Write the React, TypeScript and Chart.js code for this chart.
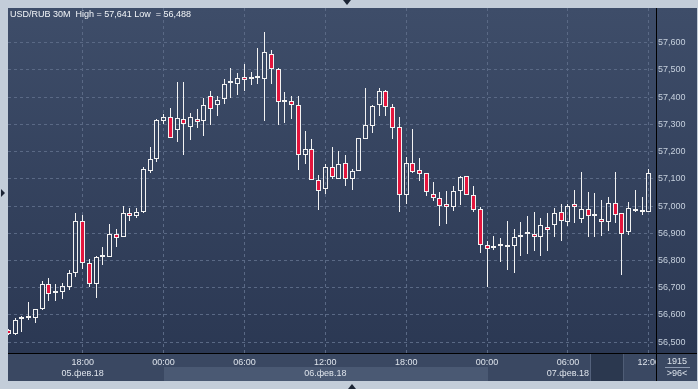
import React, { useEffect, useRef } from "react";
import { Chart, registerables } from "chart.js";

Chart.register(...registerables);

// ---- Data (USD/RUB, 30M candles, 05.02.18 12:30 .. 07.02.18 12:00) ----
const opens = [
  56.545, 56.529, 56.585, 56.588, 56.589, 56.621, 56.715, 56.679, 56.684, 56.702,
  56.754, 56.947, 56.792, 56.715, 56.814, 56.813, 56.899, 56.885, 56.975, 56.962,
  56.979, 57.130, 57.174, 57.311, 57.327, 57.278, 57.320, 57.289, 57.321, 57.311,
  57.406, 57.373, 57.393, 57.452, 57.449, 57.474, 57.465, 57.470, 57.468, 57.560,
  57.502, 57.381, 57.385, 57.373, 57.188, 57.208, 57.094, 57.061, 57.142, 57.101,
  57.157, 57.101, 57.127, 57.248, 57.294, 57.371, 57.423, 57.364, 57.289, 57.041,
  57.160, 57.131, 57.120, 57.046, 57.031, 57.007, 56.997, 57.054, 57.109, 57.042,
  56.991, 56.856, 56.847, 56.853, 56.851, 56.855, 56.885, 56.896, 56.899, 56.888,
  56.922, 56.929, 56.977, 56.940, 57.006, 56.951, 56.988, 56.962, 56.952, 56.940,
  57.010, 56.973, 56.903, 56.981, 56.979, 56.977,
];
const highs = [
  56.548, 56.590, 56.595, 56.646, 56.623, 56.726, 56.734, 56.715, 56.716, 56.767,
  56.974, 56.966, 56.807, 56.818, 56.848, 56.934, 56.914, 57.000, 56.992, 56.993,
  57.143, 57.217, 57.318, 57.338, 57.361, 57.456, 57.456, 57.342, 57.356, 57.396,
  57.422, 57.404, 57.466, 57.507, 57.488, 57.521, 57.492, 57.580, 57.641, 57.573,
  57.507, 57.419, 57.406, 57.406, 57.276, 57.247, 57.114, 57.154, 57.216, 57.201,
  57.186, 57.135, 57.250, 57.435, 57.371, 57.432, 57.425, 57.375, 57.327, 57.182,
  57.284, 57.175, 57.120, 57.088, 57.050, 57.057, 57.072, 57.109, 57.112, 57.072,
  56.995, 56.873, 56.889, 56.881, 56.945, 56.915, 56.941, 56.963, 56.980, 56.955,
  56.974, 56.992, 57.006, 57.006, 57.058, 57.124, 57.051, 57.047, 57.021, 57.032,
  57.124, 56.973, 57.014, 57.058, 57.032, 57.135,
];
const lows = [
  56.525, 56.525, 56.539, 56.582, 56.572, 56.620, 56.651, 56.651, 56.658, 56.691,
  56.739, 56.769, 56.702, 56.662, 56.783, 56.813, 56.850, 56.885, 56.946, 56.956,
  56.975, 57.120, 57.163, 57.302, 57.249, 57.236, 57.188, 57.243, 57.285, 57.259,
  57.296, 57.331, 57.376, 57.398, 57.408, 57.424, 57.443, 57.449, 57.313, 57.449,
  57.298, 57.306, 57.320, 57.133, 57.153, 57.094, 56.986, 57.043, 57.101, 57.101,
  57.074, 57.060, 57.127, 57.248, 57.269, 57.332, 57.329, 57.248, 56.978, 57.008,
  57.120, 57.092, 57.037, 57.019, 56.927, 56.935, 56.982, 57.004, 57.042, 56.978,
  56.827, 56.702, 56.839, 56.795, 56.765, 56.754, 56.817, 56.824, 56.835, 56.817,
  56.835, 56.887, 56.873, 56.927, 56.938, 56.936, 56.887, 56.887, 56.890, 56.909,
  56.936, 56.747, 56.893, 56.977, 56.967, 56.977,
];
const closes = [
  56.530, 56.583, 56.589, 56.590, 56.622, 56.715, 56.678, 56.682, 56.707, 56.755,
  56.945, 56.792, 56.715, 56.814, 56.816, 56.899, 56.883, 56.973, 56.965, 56.977,
  57.135, 57.172, 57.316, 57.327, 57.249, 57.322, 57.300, 57.327, 57.310, 57.370,
  57.355, 57.389, 57.447, 57.455, 57.469, 57.463, 57.473, 57.472, 57.565, 57.504,
  57.384, 57.389, 57.373, 57.188, 57.208, 57.094, 57.057, 57.142, 57.105, 57.153,
  57.101, 57.127, 57.249, 57.298, 57.368, 57.423, 57.364, 57.286, 57.041, 57.160,
  57.126, 57.116, 57.050, 57.031, 57.001, 56.996, 57.057, 57.105, 57.042, 56.986,
  56.857, 56.844, 56.855, 56.855, 56.858, 56.885, 56.893, 56.899, 56.885, 56.932,
  56.911, 56.973, 56.944, 56.999, 56.995, 56.988, 56.962, 56.963, 56.941, 57.010,
  56.969, 56.899, 56.992, 56.988, 56.984, 57.121,
];

const yTicks = [56.5, 56.6, 56.7, 56.8, 56.9, 57.0, 57.1, 57.2, 57.3, 57.4, 57.5, 57.6];
const xTickIndex = [11, 23, 35, 47, 59, 71, 83, 95];
const xTimeLabels = ["18:00", "00:00", "06:00", "12:00", "18:00", "00:00", "06:00", "12:00"];
const xDateLabels = ["05.фев.18", "", "", "06.фев.18", "", "", "07.фев.18", ""];
const titleText = "USD/RUB 30M  High = 57,641 Low  = 56,488";
const barsTotalText = "1915";
const barsVisibleText = ">96<";

const FONT = "'Liberation Sans', Arial, sans-serif";
const RED = "#e3153d";
const WHITE = "#f2f2f2";

const framePlugin = {
  id: "terminalFrame",
  afterDatasetsUpdate(chart: any) {
    chart.data.datasets.forEach((ds: any, di: number) => {
      const meta = chart.getDatasetMeta(di);
      meta.data.forEach((el: any, i: number) => {
        el.x = Math.floor(el.x) + 0.5;
        el.y = Math.round(el.y);
        el.base = Math.round(el.base);
        if (di === 0) {
          const down = closes[i] < opens[i];
          const minH = down ? 3 : 2;
          if (Math.abs(el.base - el.y) < minH) {
            el.y = el.base + (down ? minH : -minH);
          }
        }
      });
    });
  },
  beforeDraw(chart: any) {
    const ctx = chart.ctx;
    const a = chart.chartArea;
    const W = chart.width;
    const H = chart.height;
    ctx.save();
    ctx.fillStyle = "#c3cdd9";
    ctx.fillRect(0, 0, W, H);
    const g = ctx.createLinearGradient(0, a.top, 0, a.bottom);
    g.addColorStop(0, "#3e4d69");
    g.addColorStop(1, "#2b3853");
    ctx.fillStyle = g;
    ctx.fillRect(a.left, a.top, W - 1 - a.left, a.bottom - a.top);
    // bottom time strip
    ctx.fillStyle = "#3a4862";
    ctx.fillRect(a.left, a.bottom, W - 1 - a.left, 28);
    const xs = chart.scales.x;
    const d0 = xs.getPixelForValue(23);
    const d1 = xs.getPixelForValue(71);
    ctx.fillStyle = "#4a5973";
    ctx.fillRect(Math.round(d0), a.bottom + 14, Math.round(d1 - d0), 14);
    ctx.restore();
  },
  afterDraw(chart: any) {
    const ctx = chart.ctx;
    const a = chart.chartArea;
    const W = chart.width;
    ctx.save();
    // dark scroll box in time strip
    ctx.fillStyle = "rgba(38,50,72,0.72)";
    ctx.fillRect(591, a.bottom + 1, 33, 27);
    ctx.fillStyle = "rgba(95,110,135,0.7)";
    ctx.fillRect(590, a.bottom + 1, 1, 27);
    ctx.fillRect(623, a.bottom + 1, 1, 27);
    // bottom-right box
    ctx.fillStyle = "#3a4862";
    ctx.fillRect(a.right, a.bottom, W - 1 - a.right, 28);
    ctx.fillStyle = "#8d9ab0";
    ctx.fillRect(665, a.bottom + 14, 25, 1);
    ctx.fillStyle = "#dbe2ea";
    ctx.font = `9px ${FONT}`;
    ctx.textAlign = "center";
    ctx.textBaseline = "middle";
    ctx.fillText(barsTotalText, 677, a.bottom + 9);
    ctx.fillText(barsVisibleText, 677, a.bottom + 21);
    // black separators
    ctx.fillStyle = "#000000";
    ctx.fillRect(a.right, a.top, 1, a.bottom - a.top + 28);
    ctx.fillRect(a.left, a.bottom, W - 1 - a.left, 1);
    // title
    ctx.fillStyle = "#f2f5f8";
    ctx.textAlign = "left";
    ctx.fillText(titleText, 10, 15);
    // frame arrows
    ctx.fillStyle = "#1c2535";
    ctx.beginPath();
    ctx.moveTo(343, 0); ctx.lineTo(351, 0); ctx.lineTo(347, 5); ctx.closePath(); ctx.fill();
    ctx.beginPath();
    ctx.moveTo(1, 189); ctx.lineTo(1, 197); ctx.lineTo(5, 193); ctx.closePath(); ctx.fill();
    ctx.beginPath();
    ctx.moveTo(348, 389); ctx.lineTo(356, 389); ctx.lineTo(352, 384); ctx.closePath(); ctx.fill();
    ctx.restore();
  },
};

export default function App() {
  const ref = useRef<HTMLCanvasElement | null>(null);

  useEffect(() => {
    document.body.style.margin = "0";
    const idx = opens.map((_, i) => i);
    const bodyData = idx.map((i) => ({ x: i, y: [opens[i], closes[i]] }));
    const upperData = idx.map((i) => ({ x: i, y: [Math.max(opens[i], closes[i]), highs[i]] }));
    const lowerData = idx.map((i) => ({ x: i, y: [lows[i], Math.min(opens[i], closes[i])] }));
    const bodyFill = idx.map((i) => (closes[i] < opens[i] ? RED : "rgba(0,0,0,0)"));
    const gridColor = "#5a6985";

    const chart = new Chart(ref.current as HTMLCanvasElement, {
      type: "bar",
      data: {
        datasets: [
          {
            data: bodyData as any,
            backgroundColor: bodyFill,
            borderColor: WHITE,
            borderWidth: 1,
            borderSkipped: false,
            barThickness: 5,
            grouped: false,
            inflateAmount: 0,
          } as any,
          {
            data: upperData as any,
            backgroundColor: WHITE,
            borderWidth: 0,
            barThickness: 1,
            grouped: false,
            inflateAmount: 0,
          } as any,
          {
            data: lowerData as any,
            backgroundColor: WHITE,
            borderWidth: 0,
            barThickness: 1,
            grouped: false,
            inflateAmount: 0,
          } as any,
        ],
      },
      options: {
        responsive: false,
        animation: false,
        devicePixelRatio: 1,
        layout: { padding: { left: 8, top: 8, right: 1, bottom: 8 } },
        plugins: { legend: { display: false }, tooltip: { enabled: false } },
        scales: {
          x: {
            type: "linear",
            min: -0.0742,
            max: 96.068,
            offset: false,
            grid: { color: gridColor, lineWidth: 1, drawTicks: false, offset: false },
            border: { display: false, dash: [3, 3] },
            afterBuildTicks: (s: any) => {
              s.ticks = xTickIndex.map((v) => ({ value: v }));
            },
            afterFit: (s: any) => {
              s.height = 28;
            },
            ticks: {
              autoSkip: false,
              maxRotation: 0,
              minRotation: 0,
              padding: 4,
              color: "#dde3eb",
              font: { family: FONT, size: 9, lineHeight: 1.25 },
              callback: (_v: any, i: number) =>
                xDateLabels[i] ? [xTimeLabels[i], xDateLabels[i]] : xTimeLabels[i],
            },
          },
          y: {
            type: "linear",
            position: "right",
            min: 56.4604,
            max: 57.7274,
            grid: { color: gridColor, lineWidth: 1, drawTicks: false },
            border: { display: false, dash: [3, 3] },
            afterBuildTicks: (s: any) => {
              s.ticks = yTicks.map((v) => ({ value: v }));
            },
            afterFit: (s: any) => {
              s.width = 41;
            },
            ticks: {
              padding: 2,
              color: "#c6d0dd",
              font: { family: FONT, size: 9 },
              callback: (v: any) => Number(v).toFixed(3).replace(".", ","),
            },
          },
        },
      } as any,
      plugins: [framePlugin],
    });
    return () => chart.destroy();
  }, []);

  return (
    <div style={{ position: "fixed", left: 0, top: 0, width: 698, height: 389 }}>
      <canvas ref={ref} width={698} height={389} style={{ width: 698, height: 389, display: "block" }} />
    </div>
  );
}
